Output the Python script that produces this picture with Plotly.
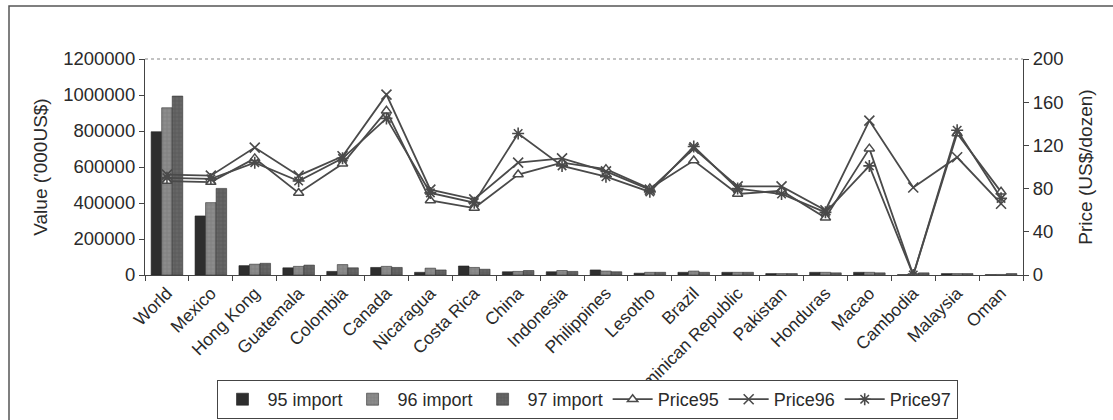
import plotly.graph_objects as go

countries = ["World", "Mexico", "Hong Kong", "Guatemala", "Colombia", "Canada", "Nicaragua",
             "Costa Rica", "China", "Indonesia", "Philippines", "Lesotho", "Brazil",
             "Dominican Republic", "Pakistan", "Honduras", "Macao", "Cambodia", "Malaysia", "Oman"]

import95 = [796000, 328000, 52000, 40000, 20000, 42000, 15000, 50000, 18000, 18000, 28000,
            10000, 15000, 15000, 8000, 15000, 15000, 2000, 8000, 2000]
import96 = [929000, 402000, 60000, 48000, 58000, 48000, 38000, 42000, 20000, 25000, 22000,
            15000, 22000, 15000, 8000, 15000, 15000, 8000, 8000, 3000]
import97 = [994000, 481000, 65000, 55000, 40000, 42000, 28000, 32000, 25000, 20000, 18000,
            15000, 15000, 15000, 8000, 12000, 12000, 12000, 8000, 8000]

price95 = [87, 86, 108, 76, 103, 152, 69, 62, 93, 104, 98, 80, 106, 75, 78, 53, 117, 0, 131, 77]
price96 = [93, 92, 118, 92, 110, 167, 79, 70, 104, 108, 96, 79, 117, 82, 82, 60, 143, 81, 109, 66]
price97 = [90, 89, 104, 87, 108, 145, 76, 67, 131, 101, 91, 77, 119, 80, 75, 58, 101, 0, 134, 71]

left_ticks = [0, 200000, 400000, 600000, 800000, 1000000, 1200000]
right_ticks = [0, 40, 80, 120, 160, 200]

FONT = "Liberation Sans, Arial, sans-serif"
INK = "#2a2a2a"
LINE = "#4a4a4a"

fig = go.Figure()
fig.add_trace(go.Bar(x=countries, y=import95, name="95 import",
                     marker=dict(color="#2e2e2e", line=dict(width=0.6, color="#222"))))
fig.add_trace(go.Bar(x=countries, y=import96, name="96 import",
                     marker=dict(color="#8c8c8c", line=dict(width=0.6, color="#333"),
                                 pattern=dict(shape="+", size=4, fgcolor="#6a6a6a", solidity=0.3))))
fig.add_trace(go.Bar(x=countries, y=import97, name="97 import",
                     marker=dict(color="#666666", line=dict(width=0.6, color="#333"),
                                 pattern=dict(shape="+", size=4, fgcolor="#4a4a4a", solidity=0.3))))

fig.add_trace(go.Scatter(x=countries, y=price95, name="Price95", yaxis="y2", mode="lines+markers",
                         line=dict(color=LINE, width=1.8),
                         marker=dict(symbol="triangle-up", size=9, color="white",
                                     line=dict(color=LINE, width=1.5))))
fig.add_trace(go.Scatter(x=countries, y=price96, name="Price96", yaxis="y2", mode="lines+markers",
                         line=dict(color=LINE, width=1.8),
                         marker=dict(symbol="x-thin", size=10, color=LINE,
                                     line=dict(color=LINE, width=1.6))))
fig.add_trace(go.Scatter(x=countries, y=price97, name="Price97", yaxis="y2", mode="lines+markers",
                         line=dict(color=LINE, width=1.8),
                         marker=dict(symbol="asterisk", size=10, color=LINE,
                                     line=dict(color=LINE, width=1.6))))

L, R, T, B = 145, 90, 59, 145
W, H = 1113, 420
pw, ph = W - L - R, H - T - B

def px(x):
    return (x - L) / pw

def py(y):
    return (H - B - y) / ph

fig.update_layout(
    width=W, height=H,
    margin=dict(l=L, r=R, t=T, b=B, pad=0, autoexpand=False),
    paper_bgcolor="white", plot_bgcolor="white",
    font=dict(family=FONT, size=18, color=INK),
    barmode="group", bargap=0.28, bargroupgap=0,
    showlegend=True,
    legend=dict(orientation="h", x=px(587), xanchor="center", y=py(380), yanchor="top",
                bordercolor="#444", borderwidth=1, bgcolor="white",
                font=dict(size=18, family=FONT, color=INK),
                itemwidth=40, tracegroupgap=0),
    xaxis=dict(tickangle=-45, showline=True, linecolor="#444", linewidth=1.2,
               range=[-0.5, len(countries) - 0.5],
               ticks="outside", tickson="boundaries", ticklen=5, tickcolor="#444",
               tickfont=dict(size=17.5, family=FONT, color=INK), showgrid=False,
               automargin=False),
    yaxis=dict(range=[0, 1200000], tickvals=left_ticks, tickformat="d",
               showline=True, linecolor="#444", linewidth=1.2, ticks="outside",
               ticklen=5, tickcolor="#444", showgrid=False, zeroline=False,
               tickfont=dict(size=18.5, family=FONT, color=INK),
               title=dict(text="Value ('000US$)", font=dict(size=19, family=FONT, color=INK),
                          standoff=10),
               automargin=False),
    yaxis2=dict(range=[0, 200], tickvals=right_ticks, overlaying="y", side="right",
                showline=True, linecolor="#444", linewidth=1.2, ticks="outside",
                ticklen=5, tickcolor="#444", showgrid=False, zeroline=False,
                tickfont=dict(size=18.5, family=FONT, color=INK),
                title=dict(text="Price (US$/dozen)", font=dict(size=19, family=FONT, color=INK),
                           standoff=16),
                automargin=False),
    shapes=[
        dict(type="rect", xref="paper", yref="paper", x0=px(9), x1=px(1140), y0=py(450), y1=py(6),
             line=dict(color="#555", width=1.5), fillcolor="rgba(0,0,0,0)", layer="below"),
        dict(type="line", xref="paper", yref="paper", x0=0, x1=1, y0=1, y1=1,
             line=dict(color="#888", width=1.2, dash="dot")),
    ],
)

fig.write_html("out.html")
